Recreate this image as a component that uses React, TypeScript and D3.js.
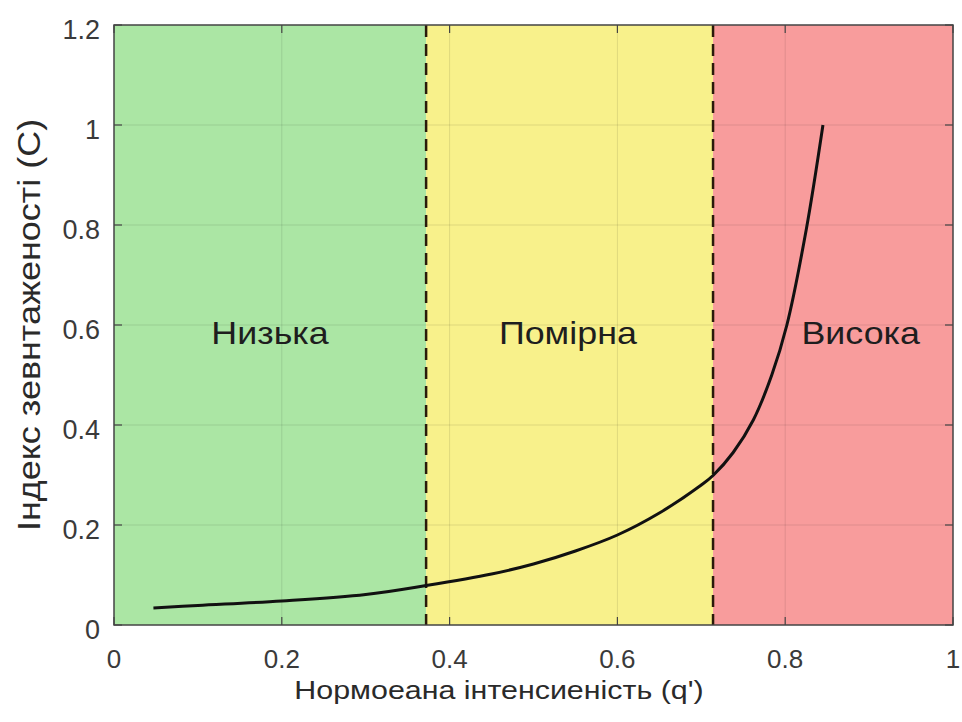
import React from "react";
import * as d3 from "d3";

const qValues = [0.047, 0.1, 0.2, 0.3, 0.372, 0.45, 0.5, 0.55, 0.6, 0.65, 0.7, 0.714, 0.738, 0.762, 0.784, 0.802, 0.825, 0.845];
const cValues = [0.034, 0.039, 0.048, 0.061, 0.079, 0.102, 0.122, 0.148, 0.18, 0.224, 0.28, 0.299, 0.345, 0.41, 0.5, 0.6, 0.79, 1.0];

const zoneBounds = [0, 0.372, 0.714, 1];
const zoneColors = ["#abe6a4", "#f8f18b", "#f89c9c"];
const zoneLabels = ["Низька", "Помірна", "Висока"];
const zoneLabelX = [0.186, 0.541, 0.89];
const zoneLabelY = 0.584;
const thresholds = [0.372, 0.714];

const xTicks = [0, 0.2, 0.4, 0.6, 0.8, 1];
const yTicks = [0, 0.2, 0.4, 0.6, 0.8, 1, 1.2];

const xLabel = "Нормоеана інтенсиеність (q')";
const yLabel = "Індекс зевнтаженості (С)";

export default function App() {
  const W = 962, H = 722;
  const left = 114, right = 953, top = 25, bottom = 625;
  const x = d3.scaleLinear().domain([0, 1]).range([left, right]);
  const y = d3.scaleLinear().domain([0, 1.2]).range([bottom, top]);
  const pts = qValues.map((q, i) => [q, cValues[i]] as [number, number]);
  const line = d3.line<[number, number]>().x(d => x(d[0])).y(d => y(d[1])).curve(d3.curveCatmullRom.alpha(0.5));
  const font = "'Liberation Sans', Arial, Helvetica, sans-serif";
  const tickLen = 8;
  return (
    <svg width={W} height={H} style={{ position: "absolute", left: 0, top: 0, background: "#fff" }} fontFamily={font}>
      {zoneColors.map((c, i) => (
        <rect key={i} x={x(zoneBounds[i])} y={top} width={x(zoneBounds[i + 1]) - x(zoneBounds[i])} height={bottom - top} fill={c} />
      ))}
      {xTicks.slice(1, -1).map((t, i) => (
        <line key={"gx" + i} x1={x(t)} x2={x(t)} y1={top} y2={bottom} stroke="#000" strokeOpacity={0.1} strokeWidth={1} />
      ))}
      {yTicks.slice(1, -1).map((t, i) => (
        <line key={"gy" + i} x1={left} x2={right} y1={y(t)} y2={y(t)} stroke="#000" strokeOpacity={0.1} strokeWidth={1} />
      ))}
      {thresholds.map((t, i) => (
        <line key={"th" + i} x1={x(t)} x2={x(t)} y1={top} y2={bottom} stroke="#2a1a0a" strokeWidth={2.5} strokeDasharray="12,7" />
      ))}
      <path d={line(pts) || ""} fill="none" stroke="#111" strokeWidth={3} />
      {zoneLabels.map((l, i) => (
        <text key={"zl" + i} transform={`translate(${x(zoneLabelX[i])}, ${y(zoneLabelY)}) scale(1.12, 1)`} textAnchor="middle" dominantBaseline="central" fontSize={32} fill="#1e1e1e">{l}</text>
      ))}
      <rect x={left} y={top} width={right - left} height={bottom - top} fill="none" stroke="#444" strokeWidth={1.5} />
      {xTicks.map((t, i) => (
        <g key={"xt" + i}>
          <line x1={x(t)} x2={x(t)} y1={bottom} y2={bottom - tickLen} stroke="#444" strokeWidth={1.2} />
          <line x1={x(t)} x2={x(t)} y1={top} y2={top + tickLen} stroke="#444" strokeWidth={1.2} />
          <text x={x(t)} y={bottom + 43} textAnchor="middle" fontSize={26} fill="#3a3a3a">{String(t)}</text>
        </g>
      ))}
      {yTicks.map((t, i) => (
        <g key={"yt" + i}>
          <line x1={left} x2={left + tickLen} y1={y(t)} y2={y(t)} stroke="#444" strokeWidth={1.2} />
          <line x1={right} x2={right - tickLen} y1={y(t)} y2={y(t)} stroke="#444" strokeWidth={1.2} />
          <text x={100} y={y(t) + 5} textAnchor="end" dominantBaseline="central" fontSize={27} fill="#3a3a3a">{String(t)}</text>
        </g>
      ))}
      <text transform="translate(499, 699) scale(1.17, 1)" textAnchor="middle" fontSize={26} fill="#2a2a2a">{xLabel}</text>
      <text transform={`translate(40, ${(top + bottom) / 2}) rotate(-90) scale(1.16, 1)`} textAnchor="middle" fontSize={31} fill="#2a2a2a">{yLabel}</text>
    </svg>
  );
}
